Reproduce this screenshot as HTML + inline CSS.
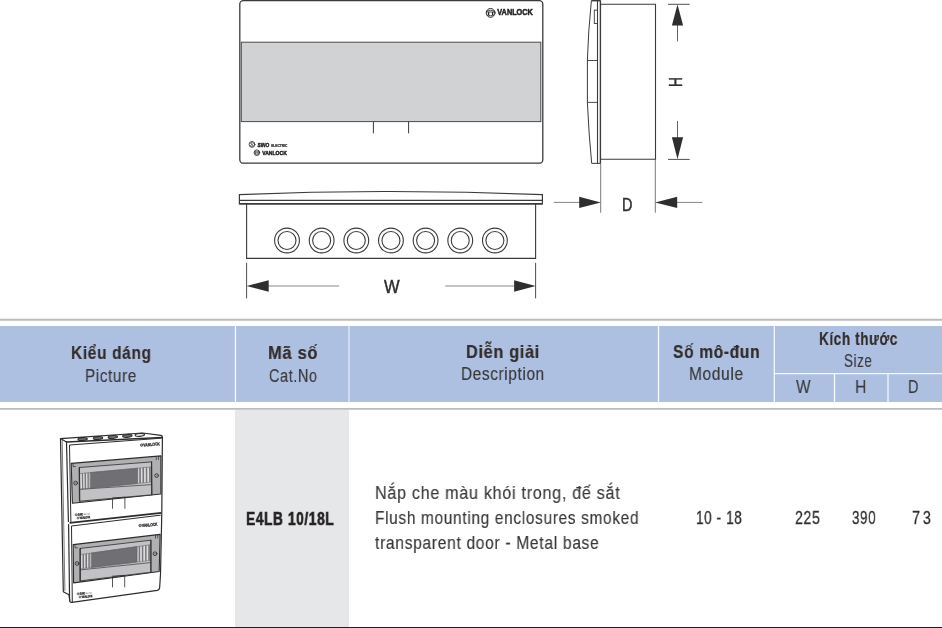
<!DOCTYPE html>
<html lang="vi">
<head>
<meta charset="utf-8">
<title>E4LB 10/18L</title>
<style>
html,body{margin:0;padding:0;background:#fff}
body{width:942px;height:628px;position:relative;overflow:hidden;font-family:"Liberation Sans", sans-serif}
.t{will-change:transform;position:absolute;white-space:nowrap;transform-origin:0 0;font-kerning:normal}
.hd{position:absolute;left:0;top:326px;width:942px;height:76px;background:#aec0e2}
.code{position:absolute;left:235.3px;top:410px;width:113.7px;height:217px;background:#e6e7e8}
.bottom{position:absolute;left:0;top:626.8px;width:942px;height:1.2px;background:#231f20}
svg{position:absolute;left:0;top:0;will-change:transform}
</style>
</head>
<body>
<svg width="942" height="316" viewBox="0 0 942 316" font-family="'Liberation Sans', sans-serif">
<g fill="none" stroke="#3a3a3c" stroke-width="1.1">
<!-- front view -->
<rect x="239.8" y="0.6" width="303" height="162.6" rx="3.5" ry="3.5" fill="#fff" stroke-width="1.3"/>
<rect x="241.3" y="42.2" width="299.5" height="79.4" fill="#d0d2d3" stroke="#4a4a4c" stroke-width="1"/>
<path d="M373.4 121.7V133.3M408.6 121.7V133.3" stroke-width="1"/>
<!-- side view -->
<path d="M591.5 0.6H600.5" stroke-width="1.6"/>
<path d="M591.4 0.4Q588.2 32 587.4 60V102.4Q588.8 135 591.7 163.4H600.5" stroke-width="1"/>
<path d="M597.5 0.4V163.4" stroke-width="1.1"/>
<path d="M600.4 0.4V163.4" stroke-width="1.4"/>
<path d="M587.4 60.5H597.5M587.4 102.4H597.5" stroke-width="0.9"/>
<rect x="594.3" y="10.1" width="3.2" height="13.4" stroke-width="0.9"/>
<path d="M600.6 4.3H655.5V159.3H600.6" stroke-width="1.1"/>
<path d="M600.7 163V212.7M655.3 159.3V212.7" stroke="#555" stroke-width="0.8"/>
<!-- H dimension -->
<path d="M668 4.3H689.7M668 159.4H689.7" stroke-width="0.9"/>
<path d="M677.5 25V41.4M677.5 121V138" stroke-width="0.8"/>
<!-- D dimension -->
<path d="M553.8 202.4H580M677 202.4H702.4" stroke="#666" stroke-width="0.8"/>
<!-- bottom view -->
<path d="M239.4 203.8V194.6Q390 188.4 542.4 194.6V203.8Z" fill="#fff" stroke-width="1.2"/>
<path d="M239.4 203.8H542.4" stroke-width="1.6"/>
<path d="M239.4 200.3H542.4" stroke-width="1.3"/>
<path d="M246.6 204V258.4H535.6V204" stroke-width="1.1"/>
<path d="M246.6 262.8V298.4M535.6 262.8V298.4" stroke-width="0.9"/>
<path d="M268 286H339.1M445.2 286H514.5" stroke="#8a8a8c" stroke-width="1"/>
</g>
<g fill="none" stroke="#3a3a3c" stroke-width="1.1">
<circle cx="287" cy="240.5" r="12.4"/><circle cx="287" cy="240.5" r="9"/>
<circle cx="321.65" cy="240.5" r="12.4"/><circle cx="321.65" cy="240.5" r="9"/>
<circle cx="356.3" cy="240.5" r="12.4"/><circle cx="356.3" cy="240.5" r="9"/>
<circle cx="390.95" cy="240.5" r="12.4"/><circle cx="390.95" cy="240.5" r="9"/>
<circle cx="425.6" cy="240.5" r="12.4"/><circle cx="425.6" cy="240.5" r="9"/>
<circle cx="460.25" cy="240.5" r="12.4"/><circle cx="460.25" cy="240.5" r="9"/>
<circle cx="494.9" cy="240.5" r="12.4"/><circle cx="494.9" cy="240.5" r="9"/>
</g>
<g fill="#2e2e30" stroke="none">
<path d="M677.5 4.5L683.1 25.5H671.9Z"/>
<path d="M677.5 159.2L683.1 137.3H671.9Z"/>
<path d="M600.8 202.4L579.2 196.7V208.1Z"/>
<path d="M655.2 202.4L677.2 196.7V208.1Z"/>
<path d="M246.6 286L268.7 280.3V291.7Z"/>
<path d="M535.6 286L514.1 280.3V291.7Z"/>
</g>
<!-- logos -->
<g fill="none" stroke="#232325" stroke-linecap="round">
<circle cx="490.6" cy="12.9" r="4.4" stroke-width="1"/>
<path d="M487 11.1Q490.6 9.2 494.2 11.1M486.4 12H494.8M487.4 15.1Q490.6 16.6 493.8 15.1" stroke-width="0.8"/>
<path d="M488.6 12.6V14.6M492.6 12.6V14.6" stroke-width="1.3"/>
<circle cx="252" cy="144.4" r="2.9" stroke-width="0.8"/>
<path d="M253.6 143.2Q252 142 250.8 143.2Q250.4 144.2 252 144.5Q253.6 144.9 253.2 145.8Q252 146.9 250.4 145.7" stroke-width="0.7"/>
<circle cx="256.9" cy="152.7" r="2.8" stroke-width="0.8"/>
<path d="M254.7 151.6Q256.9 150.5 259.1 151.6M254.3 152.2H259.5M255 154.1Q256.9 155 258.8 154.1" stroke-width="0.55"/>
<path d="M255.8 152.6V153.7M258 152.6V153.7" stroke-width="0.8"/>
</g>
<g fill="#232325" stroke="#232325" font-weight="700" stroke-linejoin="round">
<text x="497.3" y="15.45" font-size="8.5" stroke-width="0.5" textLength="35.5" lengthAdjust="spacingAndGlyphs">VANLOCK</text>
<text x="257.6" y="146.7" font-size="6.2" stroke-width="0.5" font-style="italic" textLength="11.6" lengthAdjust="spacingAndGlyphs">SINO</text>
<text x="271.2" y="146.9" font-size="3.6" stroke-width="0.2" textLength="16.2" lengthAdjust="spacingAndGlyphs">ELECTRIC</text>
<text x="262.2" y="154.8" font-size="6.1" stroke-width="0.45" textLength="24.6" lengthAdjust="spacingAndGlyphs">VANLOCK</text>
</g>
<g fill="#2e2e30" font-size="18.8" stroke="#2e2e30" stroke-width="0.45">
<text transform="translate(669.4 77) rotate(90) scale(0.74 1)" x="0" y="0">H</text>
<text x="621.9" y="210.5" font-size="18" textLength="10.4" lengthAdjust="spacingAndGlyphs">D</text>
<text x="383.9" y="293.1" font-size="18" textLength="15.6" lengthAdjust="spacingAndGlyphs">W</text>
</g>
</svg>

<div class="hd"></div>
<svg class="rules" width="942" height="628" viewBox="0 0 942 628">
<g stroke="#bcbcbe" stroke-width="2"><path d="M0 319.7H942"/><path d="M0 408.9H942" stroke-width="1.9"/></g>
<g stroke="#fff" stroke-width="1.3" stroke-opacity="0.88">
<path d="M235.45 326V402"/><path d="M349 326V402" stroke-opacity="0.6" stroke-width="1.5"/><path d="M658.5 326V402"/><path d="M774.3 326V402"/>
<path d="M834.5 373.6V402"/><path d="M888 373.6V402"/><path d="M773.7 373.6H942"/>
</g>
</svg>
<div class="code"></div>
<span class="t" style="left:70.97px;top:344.44px;font-size:18.5px;line-height:18.5px;font-weight:700;color:#332c2b;letter-spacing:0.8px;-webkit-text-stroke:0.22px #332c2b;transform:scaleX(0.8348)">Kiểu dáng</span>
<span class="t" style="left:85.38px;top:367.27px;font-size:18.7px;line-height:18.7px;font-weight:400;color:#38383a;letter-spacing:0.8px;-webkit-text-stroke:0.15px #38383a;transform:scaleX(0.8154)">Picture</span>
<span class="t" style="left:267.91px;top:344.24px;font-size:18.5px;line-height:18.5px;font-weight:700;color:#332c2b;letter-spacing:0.8px;-webkit-text-stroke:0.22px #332c2b;transform:scaleX(0.8909)">Mã số</span>
<span class="t" style="left:269.20px;top:366.57px;font-size:18.7px;line-height:18.7px;font-weight:400;color:#38383a;letter-spacing:0.8px;-webkit-text-stroke:0.15px #38383a;transform:scaleX(0.7722)">Cat.No</span>
<span class="t" style="left:466.42px;top:342.64px;font-size:18.5px;line-height:18.5px;font-weight:700;color:#332c2b;letter-spacing:0.8px;-webkit-text-stroke:0.22px #332c2b;transform:scaleX(0.8776)">Diễn giải</span>
<span class="t" style="left:460.98px;top:365.47px;font-size:18.7px;line-height:18.7px;font-weight:400;color:#38383a;letter-spacing:0.8px;-webkit-text-stroke:0.15px #38383a;transform:scaleX(0.8193)">Description</span>
<span class="t" style="left:673.00px;top:342.54px;font-size:18.5px;line-height:18.5px;font-weight:700;color:#332c2b;letter-spacing:0.8px;-webkit-text-stroke:0.22px #332c2b;transform:scaleX(0.8404)">Số mô-đun</span>
<span class="t" style="left:688.87px;top:365.37px;font-size:18.7px;line-height:18.7px;font-weight:400;color:#38383a;letter-spacing:0.8px;-webkit-text-stroke:0.15px #38383a;transform:scaleX(0.8279)">Module</span>
<span class="t" style="left:818.77px;top:330.24px;font-size:18.5px;line-height:18.5px;font-weight:700;color:#332c2b;letter-spacing:0.8px;-webkit-text-stroke:0.22px #332c2b;transform:scaleX(0.7331)">Kích thước</span>
<span class="t" style="left:844.40px;top:351.67px;font-size:18.7px;line-height:18.7px;font-weight:400;color:#38383a;letter-spacing:0.8px;-webkit-text-stroke:0.15px #38383a;transform:scaleX(0.7195)">Size</span>
<span class="t" style="left:796.30px;top:377.77px;font-size:18.7px;line-height:18.7px;font-weight:400;color:#38383a;letter-spacing:0.8px;-webkit-text-stroke:0.15px #38383a;transform:scaleX(0.8278)">W</span>
<span class="t" style="left:855.15px;top:377.77px;font-size:18.7px;line-height:18.7px;font-weight:400;color:#38383a;letter-spacing:0.8px;-webkit-text-stroke:0.15px #38383a;transform:scaleX(0.8455)">H</span>
<span class="t" style="left:908.33px;top:377.77px;font-size:18.7px;line-height:18.7px;font-weight:400;color:#38383a;letter-spacing:0.8px;-webkit-text-stroke:0.15px #38383a;transform:scaleX(0.7750)">D</span>
<span class="t" style="left:246.06px;top:509.94px;font-size:18.5px;line-height:18.5px;font-weight:700;color:#262223;letter-spacing:0.8px;-webkit-text-stroke:0.6px #262223;transform:scaleX(0.7428)">E4LB 10/18L</span>
<span class="t" style="left:375.02px;top:483.81px;font-size:18.3px;line-height:18.3px;font-weight:400;color:#38383a;letter-spacing:0.8px;-webkit-text-stroke:0.15px #38383a;transform:scaleX(0.8824)">Nắp che màu khói trong, đế sắt</span>
<span class="t" style="left:375.16px;top:508.61px;font-size:18.3px;line-height:18.3px;font-weight:400;color:#38383a;letter-spacing:0.8px;-webkit-text-stroke:0.15px #38383a;transform:scaleX(0.8437)">Flush mounting enclosures smoked</span>
<span class="t" style="left:375.30px;top:533.51px;font-size:18.3px;line-height:18.3px;font-weight:400;color:#38383a;letter-spacing:0.8px;-webkit-text-stroke:0.15px #38383a;transform:scaleX(0.8533)">transparent door - Metal base</span>
<span class="t" style="left:695.77px;top:509.14px;font-size:18.5px;line-height:18.5px;font-weight:400;color:#2e2e30;letter-spacing:0.8px;-webkit-text-stroke:0.3px #2e2e30;transform:scaleX(0.7348)">10 - 18</span>
<span class="t" style="left:794.70px;top:509.14px;font-size:18.5px;line-height:18.5px;font-weight:400;color:#2e2e30;letter-spacing:0.8px;-webkit-text-stroke:0.3px #2e2e30;transform:scaleX(0.7645)">225</span>
<span class="t" style="left:851.60px;top:509.14px;font-size:18.5px;line-height:18.5px;font-weight:400;color:#2e2e30;letter-spacing:0.8px;-webkit-text-stroke:0.3px #2e2e30;transform:scaleX(0.7272)">390</span>
<span class="t" style="left:912.40px;top:509.14px;font-size:18.5px;line-height:18.5px;font-weight:400;color:#2e2e30;letter-spacing:3.6px;-webkit-text-stroke:0.3px #2e2e30;transform:scaleX(0.7744)">73</span>
<svg width="942" height="628" viewBox="0 0 942 628" font-family="'Liberation Sans', sans-serif">
<g fill="none" stroke="#2c2c2e" stroke-width="0.9" stroke-linejoin="round" stroke-linecap="round">
<path d="M60.5 438.6L142.6 433L160.9 435.4Q162.4 435.7 162.4 437.2L161.8 512.6L161.7 516.9L160.5 574L159.7 587.2Q159.4 590 157.3 590.4L71.9 602.4Q70 602.6 69.8 601L69 594.8L63.3 591.8Z" fill="#fff" stroke-width="1.2"/>
<path d="M66.5 442L162 437.5" stroke-width="1.5"/><path d="M60.5 438.6L66.5 442" stroke-width="1.1"/>
<path d="M66.5 442L68.4 521.5M68.6 524.5L69.6 601" stroke-width="1.2"/>
<path d="M62.2 440.2L64.9 590.5" stroke-width="0.7" stroke="#444"/>
<ellipse cx="82.6" cy="439.1" rx="4.7" ry="1.45" transform="rotate(-4.5 82.6 439.1)" stroke-width="1.1" fill="#6e6e70"/>
<ellipse cx="98" cy="438.1" rx="4.7" ry="1.45" transform="rotate(-4.5 98 438.1)" stroke-width="1.1" fill="#6e6e70"/>
<ellipse cx="112.8" cy="437" rx="4.7" ry="1.45" transform="rotate(-4.5 112.8 437)" stroke-width="1.1" fill="#6e6e70"/>
<ellipse cx="127.3" cy="435.9" rx="4.7" ry="1.45" transform="rotate(-4.5 127.3 435.9)" stroke-width="1.1" fill="#6e6e70"/>
<ellipse cx="139.8" cy="434.9" rx="4.7" ry="1.45" transform="rotate(-4.5 139.8 434.9)" stroke-width="1.1" fill="#e8e8e8"/>
</g>
<g stroke="#2c2c2e" stroke-width="0.8" stroke-linejoin="round" stroke-linecap="round" fill="none">
<path d="M70.9 522.4L69.5 445.0L161.2 438.2" stroke-width="1"/>
<polygon points="71.2,463.4 160.9,455.9 160.9,494.0 72.4,503.2" fill="#b0afb2" stroke-width="1.1"/>
<polygon points="79.5,467.5 151.6,461.9 151.8,494.8 79.8,501.2" fill="#c2c1c4" stroke-width="0.8"/>
<polygon points="80.4,473.5 81.8,473.4 82.1,489.2 80.7,489.3" fill="#dcdbdd" stroke="none"/>
<polygon points="81.8,473.4 83.2,473.3 83.4,489.0 82.1,489.2" fill="#77767a" stroke="none"/>
<polygon points="83.2,473.3 84.6,473.1 84.8,488.9 83.4,489.0" fill="#dcdbdd" stroke="none"/>
<polygon points="84.6,473.1 86.1,473.0 86.2,488.7 84.8,488.9" fill="#77767a" stroke="none"/>
<polygon points="86.1,473.0 87.5,472.9 87.6,488.6 86.2,488.7" fill="#dcdbdd" stroke="none"/>
<polygon points="87.5,472.9 88.9,472.7 88.9,488.4 87.6,488.6" fill="#77767a" stroke="none"/>
<polygon points="88.9,472.7 90.3,472.6 90.3,488.3 88.9,488.4" fill="#dcdbdd" stroke="none"/>
<polygon points="137.7,468.2 139.3,468.1 139.3,483.2 137.7,483.4" fill="#dcdbdd" stroke="none"/>
<polygon points="139.3,468.1 140.9,467.9 141.0,483.1 139.3,483.2" fill="#77767a" stroke="none"/>
<polygon points="140.9,467.9 142.5,467.8 142.6,482.9 141.0,483.1" fill="#dcdbdd" stroke="none"/>
<polygon points="142.5,467.8 144.1,467.6 144.2,482.7 142.6,482.9" fill="#77767a" stroke="none"/>
<polygon points="144.1,467.6 145.8,467.5 145.9,482.6 144.2,482.7" fill="#dcdbdd" stroke="none"/>
<polygon points="145.8,467.5 147.4,467.3 147.5,482.4 145.9,482.6" fill="#77767a" stroke="none"/>
<polygon points="147.4,467.3 149.0,467.2 149.2,482.2 147.5,482.4" fill="#dcdbdd" stroke="none"/>
<polygon points="149.0,467.2 150.6,467.0 150.8,482.0 149.2,482.2" fill="#77767a" stroke="none"/>
<polygon points="90.3,472.6 137.7,468.2 137.7,483.4 90.3,488.3" fill="#706f73" stroke="#5a595d" stroke-width="0.5"/>
<path d="M80.4 473.5L150.6 467.0" stroke="#6a696d" stroke-width="0.6"/>
<path d="M80.3 489.3L151.7 484.6" stroke="#4a494d" stroke-width="0.8"/>
<path d="M80.7 489.3L150.8 482.0" stroke="#6a696d" stroke-width="0.5"/>
<path d="M79.5 467.5L79.8 501.2M151.6 461.9L151.8 494.8" stroke-width="1"/>
<path d="M73.0 464.0v2.6h2.4M156.3 456.7v3M158.5 456.5v3" stroke-width="0.7"/>
<circle cx="75.6" cy="483.1" r="1.9" fill="#a3a2a5" stroke-width="0.8"/><circle cx="75.6" cy="483.1" r="0.7" fill="#77767a" stroke="none"/>
<circle cx="156.6" cy="475.6" r="1.9" fill="#a3a2a5" stroke-width="0.8"/><circle cx="156.6" cy="475.6" r="0.7" fill="#77767a" stroke="none"/>
<path d="M112.5 499.2V508.3M124.9 497.6V508.3M112.5 498.0L124.9 497.2" stroke-width="0.8"/>
</g>
<g fill="#2c2c2e" font-weight="700" stroke="#2c2c2e" stroke-width="0.3"><circle cx="141.7" cy="445.1" r="1.3" fill="#999" stroke="#2c2c2e" stroke-width="0.6"/><text transform="translate(143.6 446.6) rotate(-5)" font-size="4.2" textLength="16.5" lengthAdjust="spacingAndGlyphs">VANLOCK</text>
<circle cx="76.2" cy="514.8" r="1.1" fill="#aaa" stroke="#2c2c2e" stroke-width="0.5"/><text transform="translate(77.8 515.8) rotate(-6)" font-size="3.2" font-style="italic" textLength="5.6" lengthAdjust="spacingAndGlyphs">SINO</text>
<text transform="translate(84.0 515.1) rotate(-6)" font-size="1.8" fill="#555" stroke="none" textLength="6.2" lengthAdjust="spacingAndGlyphs">ELECTRIC</text>
<circle cx="78.0" cy="518.1" r="1" fill="#aaa" stroke="#2c2c2e" stroke-width="0.5"/><text transform="translate(79.8 519.1) rotate(-6)" font-size="3.2" textLength="10.7" lengthAdjust="spacingAndGlyphs">VANLOCK</text></g>
<path d="M69.6 522.9L161.3 512.8" stroke="#2c2c2e" stroke-width="1.7" fill="none"/>
<g stroke="#2c2c2e" stroke-width="0.8" stroke-linejoin="round" stroke-linecap="round" fill="none">
<path d="M72.3 602.2L71.5 526.0L160.3 515.2" stroke-width="1"/>
<polygon points="73.2,544.6 160.1,534.4 159.2,571.5 73.6,582.9" fill="#b0afb2" stroke-width="1.1"/>
<polygon points="80.3,548.4 150.9,540.2 150.9,572.2 80.3,580.9" fill="#c2c1c4" stroke-width="0.8"/>
<polygon points="81.2,554.5 82.6,554.3 82.6,568.5 81.2,568.7" fill="#dcdbdd" stroke="none"/>
<polygon points="82.6,554.3 84.1,554.1 84.1,568.4 82.6,568.5" fill="#77767a" stroke="none"/>
<polygon points="84.1,554.1 85.5,553.9 85.5,568.2 84.1,568.4" fill="#dcdbdd" stroke="none"/>
<polygon points="85.5,553.9 87.0,553.7 87.0,568.0 85.5,568.2" fill="#77767a" stroke="none"/>
<polygon points="87.0,553.7 88.4,553.5 88.4,567.8 87.0,568.0" fill="#dcdbdd" stroke="none"/>
<polygon points="88.4,553.5 89.9,553.3 89.9,567.7 88.4,567.8" fill="#77767a" stroke="none"/>
<polygon points="89.9,553.3 91.3,553.1 91.3,567.5 89.9,567.7" fill="#dcdbdd" stroke="none"/>
<polygon points="137.1,546.6 138.7,546.4 138.7,561.8 137.1,562.0" fill="#dcdbdd" stroke="none"/>
<polygon points="138.7,546.4 140.3,546.1 140.3,561.6 138.7,561.8" fill="#77767a" stroke="none"/>
<polygon points="140.3,546.1 141.9,545.9 141.9,561.4 140.3,561.6" fill="#dcdbdd" stroke="none"/>
<polygon points="141.9,545.9 143.5,545.7 143.5,561.2 141.9,561.4" fill="#77767a" stroke="none"/>
<polygon points="143.5,545.7 145.1,545.5 145.1,561.0 143.5,561.2" fill="#dcdbdd" stroke="none"/>
<polygon points="145.1,545.5 146.7,545.2 146.7,560.8 145.1,561.0" fill="#77767a" stroke="none"/>
<polygon points="146.7,545.2 148.3,545.0 148.3,560.7 146.7,560.8" fill="#dcdbdd" stroke="none"/>
<polygon points="148.3,545.0 149.9,544.8 149.9,560.5 148.3,560.7" fill="#77767a" stroke="none"/>
<polygon points="91.3,553.1 137.1,546.6 137.1,562.0 91.3,567.5" fill="#706f73" stroke="#5a595d" stroke-width="0.5"/>
<path d="M81.2 554.5L149.9 544.8" stroke="#6a696d" stroke-width="0.6"/>
<path d="M80.3 569.9L150.9 562.6" stroke="#4a494d" stroke-width="0.8"/>
<path d="M81.2 568.7L149.9 560.5" stroke="#6a696d" stroke-width="0.5"/>
<path d="M80.3 548.4L80.3 580.9M150.9 540.2L150.9 572.2" stroke-width="1"/>
<path d="M75.0 545.2v2.6h2.4M155.5 535.2v3M157.7 535.0v3" stroke-width="0.7"/>
<circle cx="77" cy="563.5" r="1.9" fill="#a3a2a5" stroke-width="0.8"/><circle cx="77" cy="563.5" r="0.7" fill="#77767a" stroke="none"/>
<circle cx="155" cy="553.7" r="1.9" fill="#a3a2a5" stroke-width="0.8"/><circle cx="155" cy="553.7" r="0.7" fill="#77767a" stroke="none"/>
<path d="M112.5 577.4V587M124.7 575.8V587M112.5 576.2L124.7 575.4" stroke-width="0.8"/>
</g>
<g fill="#2c2c2e" font-weight="700" stroke="#2c2c2e" stroke-width="0.3"><circle cx="140.1" cy="525.5" r="1.3" fill="#999" stroke="#2c2c2e" stroke-width="0.6"/><text transform="translate(142.0 527.0) rotate(-5)" font-size="4.2" textLength="15.7" lengthAdjust="spacingAndGlyphs">VANLOCK</text>
<circle cx="78.2" cy="593.8" r="1.1" fill="#aaa" stroke="#2c2c2e" stroke-width="0.5"/><text transform="translate(79.8 594.8) rotate(-6)" font-size="3.2" font-style="italic" textLength="5.6" lengthAdjust="spacingAndGlyphs">SINO</text>
<text transform="translate(86.0 594.1) rotate(-6)" font-size="1.8" fill="#555" stroke="none" textLength="6.2" lengthAdjust="spacingAndGlyphs">ELECTRIC</text>
<circle cx="80.0" cy="597.1" r="1" fill="#aaa" stroke="#2c2c2e" stroke-width="0.5"/><text transform="translate(81.8 598.1) rotate(-6)" font-size="3.2" textLength="10.8" lengthAdjust="spacingAndGlyphs">VANLOCK</text></g>
</svg>
<div class="bottom"></div>
</body>
</html>
